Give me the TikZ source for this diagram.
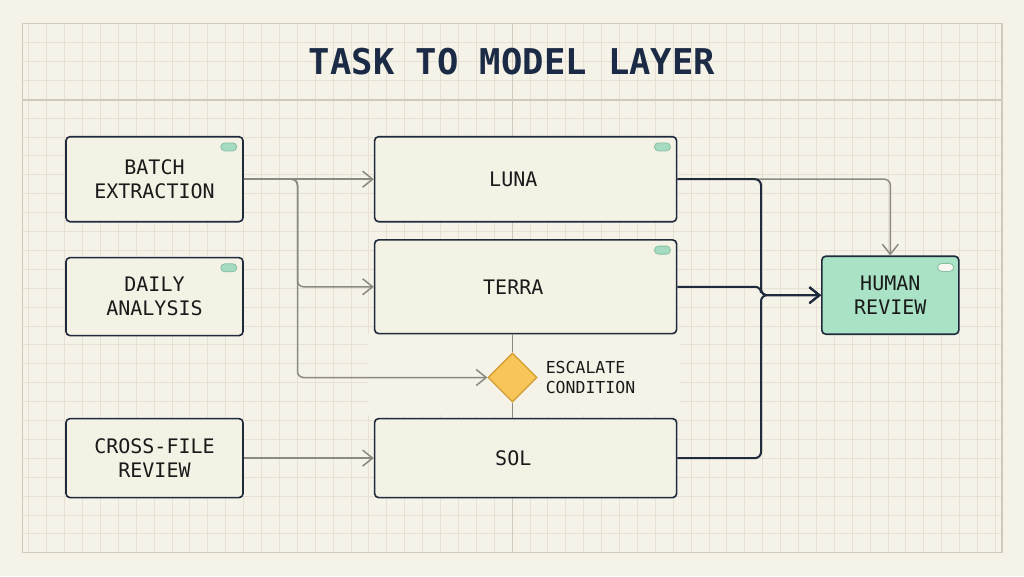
\documentclass[tikz,border=0pt]{standalone}
\usepackage{fontspec}
\setmonofont{DejaVu Sans Mono}
\usepackage{xcolor}
\usetikzlibrary{shapes.geometric, arrows.meta, positioning}

\definecolor{paper}{HTML}{F5F2E8}
\definecolor{gridcol}{HTML}{E6E1D4}
\definecolor{framecol}{HTML}{CFCABB}
\definecolor{boxfill}{HTML}{F4F1E5}
\definecolor{ink}{HTML}{1F2A3C}
\definecolor{wire}{HTML}{8B8A82}
\definecolor{pillgreen}{HTML}{A5DBC1}
\definecolor{pilledge}{HTML}{86BFA2}
\definecolor{humanfill}{HTML}{A9E2C5}
\definecolor{condfill}{HTML}{F7C55A}
\definecolor{condedge}{HTML}{D49B2A}
\definecolor{titlecol}{HTML}{1C2B45}
\definecolor{labelcol}{HTML}{1A1A1A}

\begin{document}
\begin{tikzpicture}[x=1pt, y=-1pt,
    task/.style={rectangle, draw=ink, line width=1.6pt, fill=boxfill, rounded corners=4pt, minimum width=177pt, text width=170pt, align=center, text=labelcol, font=\ttfamily\fontsize{20}{24}\selectfont},
    model/.style={rectangle, draw=ink, line width=1.6pt, fill=boxfill, rounded corners=4pt, minimum width=302pt, label={[xshift=-12.3pt, text=labelcol, font=\ttfamily\fontsize{20}{24}\selectfont]center:#1}},
    review/.style={task, fill=humanfill, minimum width=137pt, text width=130pt, minimum height=78pt},
    cond/.style={diamond, draw=condedge, fill=condfill, line width=1.2pt, minimum size=49pt, inner sep=0pt},
    note/.style={inner sep=0pt, align=left, text=labelcol, font=\ttfamily\fontsize{16.5}{20}\selectfont},
    pill/.style={rectangle, draw=pilledge, fill=pillgreen, line width=0.8pt, rounded corners=4pt, minimum width=16pt, minimum height=8pt, inner sep=0pt},
    gridline/.style={draw=gridcol, line width=0.8pt},
    flow/.style={draw=wire, line width=1.5pt, rounded corners=6pt, -{Straight Barb[length=10pt, width=16pt]}},
    route/.style={draw=ink, line width=2pt, rounded corners=6pt, -{Straight Barb[length=10pt, width=16pt]}},
    link/.style={draw=wire, line width=1.5pt}]

    % paper and grid
    \fill[paper] (0,0) rectangle (1024,576);
    \useasboundingbox (0,0) rectangle (1024,576);
    \foreach \k in {-27,...,27}
        \draw[gridline] (512+17.9*\k,23.5) -- (512+17.9*\k,552.7);
    \foreach \k in {1,...,27}
        \draw[gridline] (22.5,23.5+18.9*\k) -- (1002,23.5+18.9*\k);
    \draw[framecol, line width=1pt] (512,23.5) -- (512,552.7);
    \draw[framecol, line width=1.2pt] (22.5,100) -- (1002,100);
    \draw[framecol, line width=1.4pt] (22.5,23.5) rectangle (1002,552.7);
    \fill[paper] (368,334) rectangle (680,415);

    \node[text=titlecol, font=\ttfamily\bfseries\fontsize{35.5}{40}\selectfont] (title) at (512,62) {TASK TO MODEL LAYER};

    % tasks
    \node[task, minimum height=85pt] (batch) at (154.5,179.2) {BATCH\\EXTRACTION};
    \node[task, minimum height=78pt, below=34.3pt of batch] (daily) {DAILY\\ANALYSIS};
    \node[task, minimum height=79pt, below=81.4pt of daily] (cross) {CROSS-FILE\\REVIEW};

    % models
    \node[model=LUNA, minimum height=85pt, right=130pt of batch] (luna) {};
    \node[model=TERRA, minimum height=93.7pt, below=16.6pt of luna] (terra) {};
    \node[model=SOL, minimum height=79pt, right=130pt of cross] (sol) {};
    \node[cond] (cond) at (512.5,377.5) {};
    \node[note, right=8pt of cond] (condnote) {ESCALATE\\CONDITION};

    \node[review] (human) at (890.3,295.2) {HUMAN\\REVIEW};

    \foreach \n in {batch,daily,luna,terra}
        \node[pill] at ([xshift=-15pt, yshift=-11pt]\n.north east) {};
    \node[pill, fill=paper!60!white, draw=pilledge] at ([xshift=-14pt, yshift=-12pt]human.north east) {};

    % connectors
    \coordinate (fork) at (297.5,0 |- batch.east);
    \coordinate (merge) at ([xshift=-60pt]human.west);
    \draw[flow] (batch.east) -- (luna.west);
    \draw[flow] (batch.east) -- (fork) |- (terra.west);
    \draw[flow] (batch.east) -- (fork) |- (cond.west);
    \draw[flow] (cross.east) -- (sol.west);
    \draw[link] (cond.north) -- (cond.north |- terra.south);
    \draw[link] (cond.south) -- (cond.south |- sol.north);
    \draw[flow] (luna.east) -| (human.north);
    \draw[route] (luna.east) -| (merge) -- (human.west);
    \draw[route] (terra.east) -| (merge) -- (human.west);
    \draw[route] (sol.east) -| (merge) -- (human.west);
\end{tikzpicture}
\end{document}
